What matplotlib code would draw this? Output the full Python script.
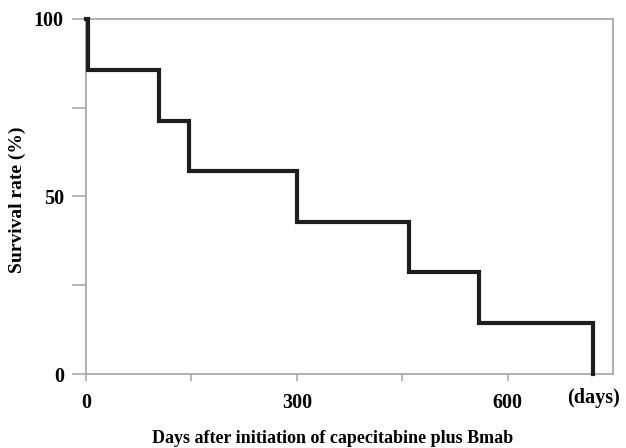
import matplotlib
matplotlib.use("Agg")
import matplotlib.pyplot as plt

days = [0, 3, 104, 146, 300, 459, 559, 721]
survival = [100, 85.7, 71.4, 57.1, 42.9, 28.6, 14.3, 0]
xtick_major = [0, 300, 600]
xtick_minor = [150, 450]
ytick_major = [0, 50, 100]
ytick_minor = [25, 75]

plt.rcParams['font.family'] = ['Liberation Serif', 'DejaVu Serif']
plt.rcParams['font.weight'] = 'bold'

W, H = 626, 448
fig = plt.figure(figsize=(W/100, H/100), dpi=100)
ax = fig.add_axes([86/W, 1-374/H, (613-86)/W, (374-19)/H])

ax.plot(days, survival, drawstyle='steps-post', color='#1e1e1e', lw=3.0,
        solid_joinstyle='miter', clip_on=False, zorder=3)

ax.set_xlim(0, 750)
ax.set_ylim(0, 100)
spine_c = '#a9a9b0'
for s in ax.spines.values():
    s.set_color(spine_c)
    s.set_linewidth(1.3)

ax.set_xticks(xtick_major)
ax.set_xticks(xtick_minor, minor=True)
ax.set_yticks(ytick_major)
ax.set_yticks(ytick_minor, minor=True)
ax.set_xticklabels([str(v) for v in xtick_major], fontsize=14.5, fontweight='bold')
ax.set_yticklabels([str(v) for v in ytick_major], fontsize=14.5, fontweight='bold')
ax.tick_params(axis='both', which='both', color=spine_c, width=1.2, direction='out')
ax.tick_params(axis='x', which='both', length=5, pad=9)
ax.tick_params(axis='y', which='both', length=10, pad=6)

fig.text(593/W, 1-398/H, '(days)', ha='center', va='center',
         fontsize=14.5, fontweight='bold')

fig.text(17/W, 1-200/H, 'Survival rate (%)', rotation=90, ha='center',
         va='center', fontsize=14, fontweight='bold')
fig.text(333/W, 1-438/H,
         'Days after initiation of capecitabine plus Bmab',
         ha='center', va='center', fontsize=13, fontweight='bold')

fig.savefig('out.png', dpi=100)
